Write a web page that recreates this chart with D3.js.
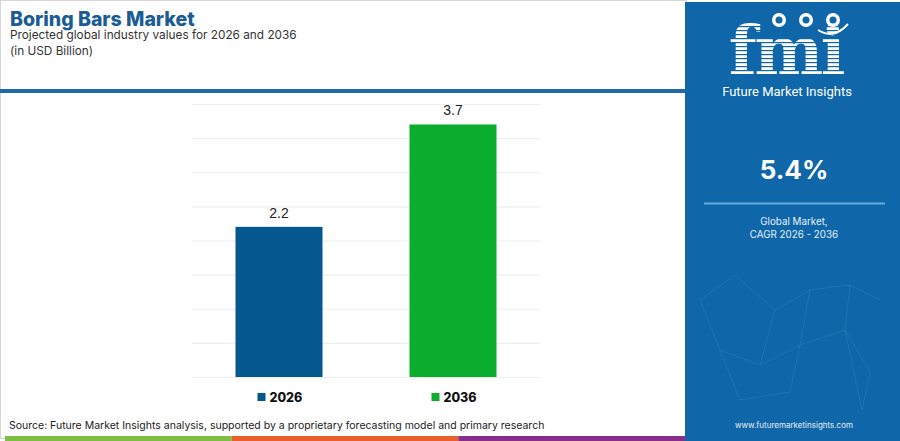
<!DOCTYPE html>
<html>
<head>
<meta charset="utf-8">
<script src="https://cdn.jsdelivr.net/npm/d3@7"></script>
<style>
  html, body { margin: 0; padding: 0; background: #fff; }
  svg { display: block; }
</style>
</head>
<body>
<div id="chart"></div>
<script>
// data
var years = ["2026", "2036"];
var values = [2.2, 3.7];
var barColors = ["#05588f", "#0bad2e"];
var yTicks = [0, 0.5, 1, 1.5, 2, 2.5, 3, 3.5, 4];
var cagr = "5.4%";
var stripeColors = ["#7dbf45", "#e8612c", "#8b2d8c"];

var width = 900, height = 441;

var svg = d3.select("#chart")
  .append("svg")
  .attr("width", width)
  .attr("height", height);

// left frame + header
svg.append("rect")
  .attr("x", 0.5).attr("y", 0.5)
  .attr("width", 686).attr("height", 438)
  .attr("fill", "#fff")
  .attr("stroke", "#d6d6d6");

svg.append("rect")
  .attr("x", 0).attr("y", 89)
  .attr("width", 686).attr("height", 4)
  .attr("fill", "#1f6aab");

svg.append("text")
  .attr("x", 10).attr("y", 26)
  .text("Boring Bars Market")
  .attr("font-family", "Inter, 'Open Sans', sans-serif")
  .attr("font-size", "19.5px")
  .attr("font-weight", 800)
  .attr("fill", "#1b5c94");

svg.append("text")
  .attr("x", 10).attr("y", 39)
  .text("Projected global industry values for 2026 and 2036")
  .attr("font-family", "Inter, 'Open Sans', sans-serif")
  .attr("font-size", "11.8px")
  .attr("fill", "#333");

svg.append("text")
  .attr("x", 10).attr("y", 55)
  .text("(in USD Billion)")
  .attr("font-family", "Inter, 'Open Sans', sans-serif")
  .attr("font-size", "11.8px")
  .attr("fill", "#333");

// scales
var x = d3.scaleBand()
  .domain(years)
  .range([192, 540])
  .paddingInner(0.5)
  .paddingOuter(0.25);

var y = d3.scaleLinear()
  .domain([0, 4])
  .range([377, 104]);

// gridlines
var yAxis = d3.axisLeft(y)
  .tickValues(yTicks)
  .tickSize(-(540 - 192))
  .tickFormat("");

var grid = svg.append("g")
  .attr("transform", "translate(192,0)")
  .call(yAxis);
grid.select(".domain").remove();
grid.selectAll("line").attr("stroke", "#eeeeee").attr("stroke-width", 1.2);

// bars
svg.selectAll(".bar")
  .data(values)
  .enter()
  .append("rect")
  .attr("class", "bar")
  .attr("x", function(d, i){ return x(years[i]); })
  .attr("y", function(d){ return y(d); })
  .attr("width", x.bandwidth())
  .attr("height", function(d){ return y(0) - y(d); })
  .attr("fill", function(d, i){ return barColors[i]; });

// value labels
svg.selectAll(".val")
  .data(values)
  .enter()
  .append("text")
  .attr("class", "val")
  .attr("x", function(d, i){ return x(years[i]) + x.bandwidth() / 2; })
  .attr("y", function(d){ return y(d) - 9; })
  .attr("text-anchor", "middle")
  .attr("font-family", "'Liberation Sans', Arial, sans-serif")
  .attr("font-size", "14px")
  .attr("fill", "#222")
  .text(function(d){ return d.toFixed(1); });

// legend
var legend = svg.selectAll(".leg")
  .data(years)
  .enter()
  .append("g")
  .attr("class", "leg")
  .attr("transform", function(d){ return "translate(" + (x(d) + 22) + ",393)"; });

legend.append("rect")
  .attr("width", 8).attr("height", 8)
  .attr("fill", function(d, i){ return barColors[i]; });

legend.append("text")
  .attr("x", 12).attr("y", 8.5)
  .attr("font-family", "Inter, 'Open Sans', sans-serif")
  .attr("font-size", "12.5px")
  .attr("font-weight", 800)
  .attr("fill", "#111")
  .text(function(d){ return d; });

// source
svg.append("text")
  .attr("x", 9).attr("y", 429)
  .text("Source: Future Market Insights analysis, supported by a proprietary forecasting model and primary research")
  .attr("font-family", "Inter, 'Open Sans', sans-serif")
  .attr("font-size", "10.5px")
  .attr("fill", "#222");

// bottom stripes
var stripeX = d3.scaleLinear().domain([0, stripeColors.length]).range([5, 685]);
svg.selectAll(".stripe")
  .data(stripeColors)
  .enter()
  .append("rect")
  .attr("class", "stripe")
  .attr("x", function(d, i){ return stripeX(i); })
  .attr("y", 436)
  .attr("width", stripeX(1) - stripeX(0))
  .attr("height", 5)
  .attr("fill", function(d){ return d; });

// right panel
var panel = svg.append("g");
panel.append("rect")
  .attr("x", 685).attr("y", 2)
  .attr("width", 215).attr("height", 439)
  .attr("fill", "#0f66a8");

// faint network decoration
var net = [[700,300],[735,275],[775,310],[810,290],[850,285],[880,300],[720,350],[760,365],[800,345],[845,330],[870,372],[740,400],[790,392],[862,410]];
var links = [[0,1],[1,2],[2,3],[3,4],[4,5],[0,6],[6,7],[7,8],[8,9],[9,10],[6,11],[11,12],[12,8],[9,13],[2,7],[3,8],[4,9],[13,10]];
panel.selectAll(".lnk")
  .data(links)
  .enter()
  .append("line")
  .attr("x1", function(d){ return net[d[0]][0]; })
  .attr("y1", function(d){ return net[d[0]][1]; })
  .attr("x2", function(d){ return net[d[1]][0]; })
  .attr("y2", function(d){ return net[d[1]][1]; })
  .attr("stroke", "#5d9ccd")
  .attr("stroke-opacity", 0.3)
  .attr("stroke-width", 0.8);

// logo
var logo = panel.append("g");
logo.append("text")
  .attr("x", 0).attr("y", 0)
  .attr("transform", "translate(786,74) scale(1.1,1.15)")
  .attr("text-anchor", "middle")
  .attr("font-family", "'DejaVu Serif', serif")
  .attr("font-weight", 700)
  .attr("font-size", "59px")
  .attr("letter-spacing", "-2px")
  .attr("fill", "#fff")
  .text("fmi");

// stripes over the logo
var logoStripes = d3.range(26, 76, 4);
logo.selectAll(".ls")
  .data(logoStripes)
  .enter()
  .append("rect")
  .attr("x", 715).attr("width", 145)
  .attr("y", function(d){ return d; })
  .attr("height", 1.2)
  .attr("fill", "#0f66a8");

var globes = [779, 806, 833];
logo.selectAll(".globe")
  .data(globes)
  .enter()
  .append("circle")
  .attr("cx", function(d){ return d; })
  .attr("cy", 20)
  .attr("r", 7)
  .attr("fill", "#fff");

logo.selectAll(".globe-in")
  .data(globes)
  .enter()
  .append("circle")
  .attr("cx", function(d){ return d; })
  .attr("cy", 20)
  .attr("r", 3.5)
  .attr("fill", "#0f66a8");

logo.append("path")
  .attr("d", "M818,30 Q834,40 848,24")
  .attr("fill", "none")
  .attr("stroke", "#fff")
  .attr("stroke-width", 2);

logo.append("text")
  .attr("x", 787).attr("y", 96)
  .attr("text-anchor", "middle")
  .attr("font-family", "'Liberation Sans Narrow', 'Roboto', sans-serif")
  .attr("font-size", "13px")
  .attr("fill", "#fff")
  .text("Future Market Insights");

panel.append("text")
  .attr("x", 794).attr("y", 179)
  .attr("text-anchor", "middle")
  .attr("font-family", "Inter, 'Open Sans', sans-serif")
  .attr("font-weight", 700)
  .attr("font-size", "26px")
  .attr("fill", "#fff")
  .text(cagr);

panel.append("line")
  .attr("x1", 704).attr("x2", 885)
  .attr("y1", 203.5).attr("y2", 203.5)
  .attr("stroke", "#62acdf")
  .attr("stroke-width", 2);

panel.append("text")
  .attr("x", 794).attr("y", 225)
  .attr("text-anchor", "middle")
  .attr("font-family", "Inter, 'Open Sans', sans-serif")
  .attr("font-size", "9.8px")
  .attr("fill", "#e6f0f8")
  .text("Global Market,");

panel.append("text")
  .attr("x", 794).attr("y", 238)
  .attr("text-anchor", "middle")
  .attr("font-family", "Inter, 'Open Sans', sans-serif")
  .attr("font-size", "9.8px")
  .attr("fill", "#e6f0f8")
  .text("CAGR " + years[0] + " - " + years[1]);

panel.append("text")
  .attr("x", 794).attr("y", 428)
  .attr("text-anchor", "middle")
  .attr("font-family", "Inter, 'Open Sans', sans-serif")
  .attr("font-size", "8px")
  .attr("fill", "#e6f0f8")
  .text("www.futuremarketinsights.com");
</script>
</body>
</html>
